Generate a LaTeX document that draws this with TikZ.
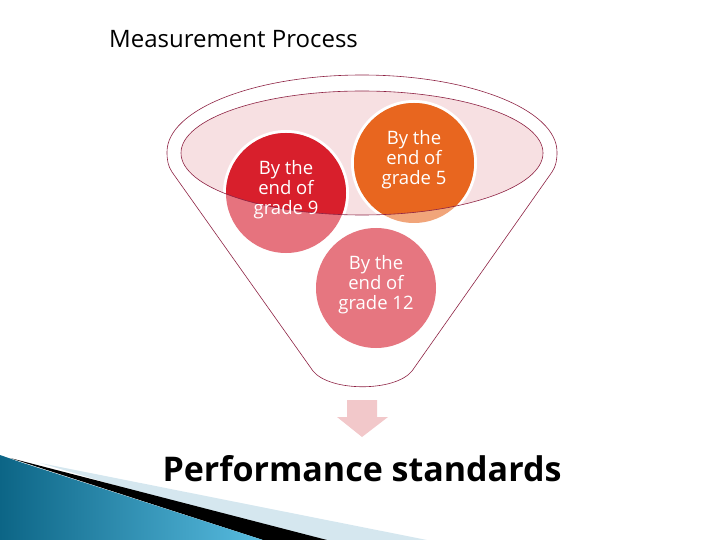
\documentclass[tikz,border=0pt]{standalone}
\usepackage{fontspec}
\setmainfont{Open Sans}
\definecolor{funnelline}{HTML}{8E2344}
\definecolor{ellfill}{HTML}{F7E0E2}
\definecolor{redstrong}{HTML}{D81F2C}
\definecolor{redlight}{HTML}{E6737E}
\definecolor{orstrong}{HTML}{E8661F}
\definecolor{orlight}{HTML}{F1A57A}
\definecolor{pinkc}{HTML}{E67680}
\definecolor{arrowpink}{HTML}{F2C8CA}
\definecolor{bluedark}{HTML}{0C6586}
\definecolor{bluelight}{HTML}{58BCE0}
\definecolor{paleblue}{HTML}{D5E7EF}
\tikzset{
  ctext/.style={text=white, align=center, font=\fontsize{18.5}{20}\selectfont},
  fline/.style={draw=funnelline, line width=0.6pt},
}
\begin{document}
\begin{tikzpicture}[x=1pt,y=-1pt]
\useasboundingbox (0,0) rectangle (720,540);
% title
\node[anchor=west, font=\fontsize{24}{28}\selectfont, inner sep=0pt] (title) at (109,39) {Measurement Process};
% funnel outer
\path[fline, fill=white] (167,152) arc[start angle=180, end angle=360, x radius=195, y radius=77]
  .. controls (557,160) and (556,166) .. (552,172)
  -- (412,371) .. controls (395,392) and (330,392) .. (313,371)
  -- (172,172) .. controls (168,166) and (167,160) .. (167,152) -- cycle;
% inner ellipse fill
\fill[ellfill] (362,153) ellipse[x radius=181, y radius=62];
% circles, light versions
\fill[white] (286,193) circle[radius=63];
\fill[white] (414,163) circle[radius=63];
\fill[redlight] (286,193) circle[radius=60];
\fill[orlight] (414,163) circle[radius=60];
\begin{scope}
  \clip (362,153) ellipse[x radius=181, y radius=62];
  \fill[redstrong] (286,193) circle[radius=60];
  \fill[orstrong] (414,163) circle[radius=60];
\end{scope}
\fill[pinkc] (376,288) circle[radius=60];
% inner ellipse outline
\draw[fline] (362,153) ellipse[x radius=181, y radius=62];
% circle texts
\node[ctext] (g9) at (286,190) {By the\\end of\\grade 9};
\node[ctext] (g5) at (414,160) {By the\\end of\\grade 5};
\node[ctext] (g12) at (376,285) {By the\\end of\\grade 12};
% arrow
\fill[arrowpink] (347,400) -- (377,400) -- (377,417) -- (388,417) -- (362,437) -- (337,417) -- (347,417) -- cycle;
% performance standards
\node[font=\bfseries\fontsize{34}{40}\selectfont, inner sep=0pt] (perf) at (362,469) {Performance standards};
% bottom-left decoration
\fill[paleblue] (40,463) -- (427,540) -- (300,540) -- cycle;
\fill[black] (10,458) -- (327,540) -- (263,540) -- cycle;
\shade[left color=bluedark, right color=bluelight] (0,455) -- (20,462) -- (263,540) -- (0,540) -- cycle;
\end{tikzpicture}
\end{document}
